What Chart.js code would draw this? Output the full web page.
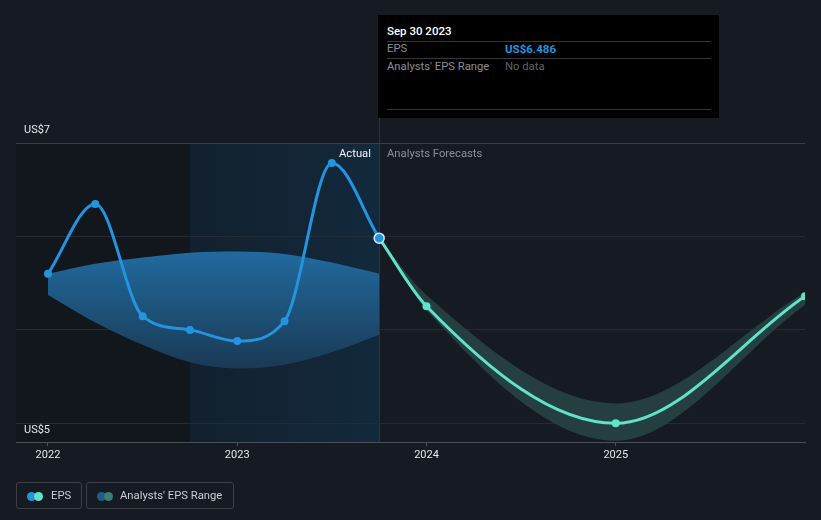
<!DOCTYPE html>
<html>
<head>
<meta charset="utf-8">
<script src="https://cdn.jsdelivr.net/npm/chart.js@4"></script>
<style>
  html,body{margin:0;padding:0;background:#151a23;}
  body{font-family:Roboto,"Noto Sans",Arial,sans-serif;}
  #wrap{position:relative;width:821px;height:520px;overflow:hidden;background:#151a23;}
  #c{position:absolute;left:0;top:0;}
  .abs{position:absolute;white-space:nowrap;line-height:14px;}
  .tt{position:absolute;left:378px;top:15px;width:341px;height:103px;background:#000;}
  .hr{position:absolute;left:9px;width:324px;height:1px;background:#363636;}
  .lg{position:absolute;top:482px;height:27px;border:1px solid #3a3f48;border-radius:3px;box-sizing:border-box;}
  .dot{position:absolute;top:8.5px;width:9px;height:9px;border-radius:50%;}
  .lgt{position:absolute;top:6px;font-size:11.25px;color:#c9ccd1;line-height:14px;white-space:nowrap;}
</style>
</head>
<body>
<div id="wrap">
  <canvas id="c" width="821" height="520"></canvas>

  <div class="abs" style="left:24px;top:123px;font-size:11px;color:#e4e6e9;">US$7</div>
  <div class="abs" style="left:24px;top:423px;font-size:11px;color:#e4e6e9;">US$5</div>
  <div class="abs" style="left:339px;top:147px;font-size:11.25px;color:#f0f2f4;">Actual</div>
  <div class="abs" style="left:387px;top:147px;font-size:11.25px;color:#8a8f97;">Analysts Forecasts</div>

  <div class="tt">
    <div class="abs" style="left:9px;top:9px;font-size:11.5px;font-weight:500;color:#fff;">Sep 30 2023</div>
    <div class="hr" style="top:26px;"></div>
    <div class="abs" style="left:9px;top:27px;font-size:11.25px;color:#8b8f95;">EPS</div>
    <div class="abs" style="left:127px;top:27px;font-size:11.5px;font-weight:bold;color:#2394df;">US$6.486</div>
    <div class="hr" style="top:43px;"></div>
    <div class="abs" style="left:9px;top:45px;font-size:11.25px;color:#8b8f95;">Analysts' EPS Range</div>
    <div class="abs" style="left:127px;top:45px;font-size:11.25px;color:#5c6066;">No data</div>
    <div class="hr" style="top:94px;"></div>
  </div>

  <div class="lg" style="left:16px;width:66px;">
    <div class="dot" style="left:10px;background:#2394df;"></div>
    <div class="dot" style="left:17px;background:#5fe3c9;"></div>
    <div class="lgt" style="left:34px;">EPS</div>
  </div>
  <div class="lg" style="left:86px;width:148px;">
    <div class="dot" style="left:10px;background:#1f5c87;"></div>
    <div class="dot" style="left:17px;background:#3b7c76;"></div>
    <div class="lgt" style="left:33px;">Analysts' EPS Range</div>
  </div>
</div>

<script>
// ---- data ----
const actualDates = [2022.0, 2022.25, 2022.5, 2022.75, 2023.0, 2023.25, 2023.5, 2023.75];
const actualEPS   = [6.20, 6.76, 5.86, 5.75, 5.66, 5.82, 7.09, 6.486];
const pastRangeHigh = [6.20, 6.28, 6.33, 6.37, 6.38, 6.36, 6.29, 6.20];
const pastRangeLow  = [6.03, 5.81, 5.63, 5.49, 5.44, 5.47, 5.57, 5.71];

const forecastDates = [2023.75, 2024.0, 2025.0, 2026.0];
const forecastEPS   = [6.486, 5.94, 5.00, 6.02];
const forecastHigh  = [6.486, 6.03, 5.16, 6.05];
const forecastLow   = [6.486, 5.91, 4.86, 5.95];

const xTickValues = [2022, 2023, 2024, 2025];
const xTickLabels = ['2022', '2023', '2024', '2025'];
const yGridValues = [5, 5.75, 6.5, 7.25];

const xMin = 2021.831, xMax = 2026.0;
const yMin = 4.85, yMax = 7.25;
const highlightStart = 2022.75, lastActual = 2023.75;

const pts = (xs, ys) => xs.map((x, i) => ({x: x, y: ys[i]}));

const bgPlugin = {
  id: 'bg',
  beforeDraw(chart) {
    const ctx = chart.ctx, ca = chart.chartArea, xs = chart.scales.x;
    ctx.save();
    ctx.fillStyle = '#151a23';
    ctx.fillRect(0, 0, chart.width, chart.height);
    const xa = ca.left, xb = xs.getPixelForValue(highlightStart), xc = xs.getPixelForValue(lastActual);
    ctx.fillStyle = '#12161d';
    ctx.fillRect(xa, ca.top, xb - xa, ca.bottom - ca.top);
    const g = ctx.createLinearGradient(xb, 0, xc, 0);
    g.addColorStop(0, '#13202d');
    g.addColorStop(1, '#12293d');
    ctx.fillStyle = g;
    ctx.fillRect(xb, ca.top, xc - xb, ca.bottom - ca.top);
    ctx.strokeStyle = '#22364a';
    ctx.lineWidth = 1;
    ctx.beginPath();
    ctx.moveTo(Math.round(xc) + 0.5, 15);
    ctx.lineTo(Math.round(xc) + 0.5, ca.bottom);
    ctx.stroke();
    ctx.restore();
  }
};

function blueGrad(c) {
  const chart = c.chart;
  if (!chart.chartArea) return '#1f5c87';
  const y = chart.scales.y;
  const g = chart.ctx.createLinearGradient(0, y.getPixelForValue(6.38), 0, y.getPixelForValue(5.44));
  g.addColorStop(0, '#216a9e');
  g.addColorStop(1, '#1a3954');
  return g;
}

new Chart(document.getElementById('c'), {
  type: 'line',
  data: {
    datasets: [
      { data: pts(actualDates, pastRangeLow), order: 20, borderWidth: 0, pointRadius: 0, fill: false, cubicInterpolationMode: 'monotone', borderColor: 'transparent' },
      { data: pts(actualDates, pastRangeHigh), order: 19, borderWidth: 0, pointRadius: 0, fill: '-1', backgroundColor: blueGrad, cubicInterpolationMode: 'monotone', borderColor: 'transparent' },
      { data: pts(forecastDates, forecastLow), order: 18, borderWidth: 0, pointRadius: 0, fill: false, cubicInterpolationMode: 'monotone', borderColor: 'transparent' },
      { data: pts(forecastDates, forecastHigh), order: 17, borderWidth: 0, pointRadius: 0, fill: '-1', backgroundColor: '#243e41', cubicInterpolationMode: 'monotone', borderColor: 'transparent' },
      { data: pts(forecastDates, forecastEPS), order: 2, borderColor: '#5fe3c9', borderWidth: 3, fill: false,
        cubicInterpolationMode: 'monotone',
        pointRadius: c => c.dataIndex === 0 ? 0 : 4, pointBackgroundColor: '#5fe3c9', pointBorderWidth: 0 },
      { data: pts(actualDates, actualEPS), order: 1, borderColor: '#2394df', borderWidth: 3, fill: false,
        cubicInterpolationMode: 'monotone',
        pointRadius: c => c.dataIndex === actualEPS.length - 1 ? 5 : 4,
        pointBackgroundColor: '#2394df',
        pointBorderColor: c => c.dataIndex === actualEPS.length - 1 ? '#d8ecfa' : '#2394df',
        pointBorderWidth: c => c.dataIndex === actualEPS.length - 1 ? 1.5 : 0 }
    ]
  },
  options: {
    responsive: false,
    devicePixelRatio: 1,
    animation: false,
    events: [],
    layout: { padding: { left: 16, right: 16, top: 143, bottom: 0 } },
    plugins: { legend: { display: false }, tooltip: { enabled: false }, title: { display: false } },
    scales: {
      x: {
        type: 'linear', min: xMin, max: xMax,
        afterBuildTicks: a => { a.ticks = xTickValues.map(v => ({ value: v })); },
        afterFit: s => { s.height = 78; },
        ticks: { autoSkip: false, maxRotation: 0, padding: 3, color: '#e4e6e9',
                 font: { family: 'Roboto', size: 11 },
                 callback: v => xTickLabels[xTickValues.indexOf(v)] },
        grid: { drawOnChartArea: false, drawTicks: true, tickLength: 4, color: '#4a4f58' },
        border: { display: true, color: '#4a4f58', width: 1 }
      },
      y: {
        type: 'linear', min: yMin, max: yMax,
        afterBuildTicks: a => { a.ticks = yGridValues.map(v => ({ value: v })); },
        afterFit: s => { s.width = 0; },
        ticks: { display: false },
        grid: { drawTicks: false, color: c => (c.tick && c.tick.value === 7.25) ? '#3a3f47' : '#252b34', lineWidth: 1 },
        border: { display: false }
      }
    }
  },
  plugins: [bgPlugin]
});
</script>
</body>
</html>
